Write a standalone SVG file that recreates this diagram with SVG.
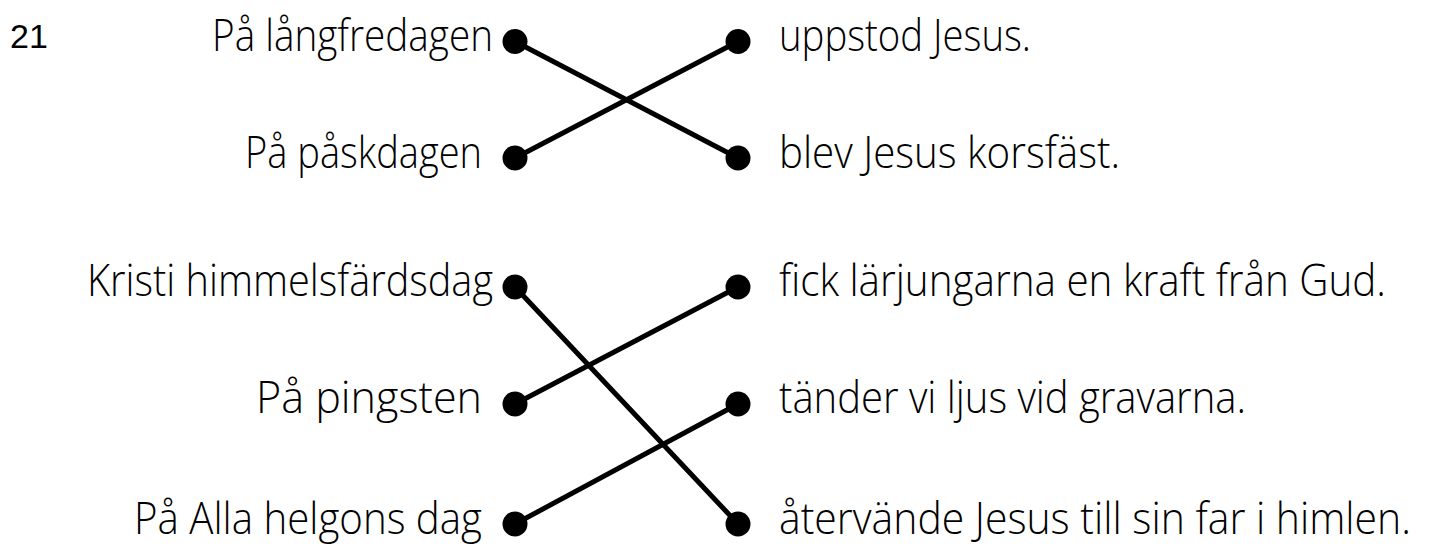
<svg xmlns="http://www.w3.org/2000/svg" width="1429" height="550" viewBox="0 0 1429 550">
<style>
.t{font-family:"Open Sans","DejaVu Sans",sans-serif;font-weight:300;font-size:44px;fill:#000}
.l{text-anchor:start}
.n{font-family:"Liberation Sans",Arial,sans-serif;font-size:34px;fill:#000}
.c{stroke:#000;stroke-width:5;stroke-linecap:round;fill:none}
.d{fill:#000}
</style>
<rect width="1429" height="550" fill="#fff"/>
<text class="n" x="10" y="48">21</text>
<g id="connectors">
<line class="c" x1="515" y1="41.5" x2="738" y2="158"/>
<line class="c" x1="515" y1="158" x2="738" y2="41.5"/>
<line class="c" x1="515" y1="287" x2="738" y2="524"/>
<line class="c" x1="515" y1="404" x2="738" y2="287"/>
<line class="c" x1="515" y1="524" x2="738" y2="404"/>
</g>
<g id="L1"><text class="t" x="212" y="51" textLength="281" lengthAdjust="spacingAndGlyphs">På långfredagen</text><circle class="d" cx="515" cy="41.5" r="12.5"/></g>
<g id="L2"><text class="t" x="245" y="168" textLength="237" lengthAdjust="spacingAndGlyphs">På påskdagen</text><circle class="d" cx="515" cy="158" r="12.5"/></g>
<g id="L3"><text class="t" x="87" y="296" textLength="406" lengthAdjust="spacingAndGlyphs">Kristi himmelsfärdsdag</text><circle class="d" cx="515" cy="287" r="12.5"/></g>
<g id="L4"><text class="t" x="256" y="413" textLength="226" lengthAdjust="spacingAndGlyphs">På pingsten</text><circle class="d" cx="515" cy="404" r="12.5"/></g>
<g id="L5"><text class="t" x="134" y="534" textLength="348" lengthAdjust="spacingAndGlyphs">På Alla helgons dag</text><circle class="d" cx="515" cy="524" r="12.5"/></g>
<g id="R1"><circle class="d" cx="738" cy="41.5" r="12.5"/><text class="t" x="779" y="51" textLength="252" lengthAdjust="spacingAndGlyphs">uppstod Jesus.</text></g>
<g id="R2"><circle class="d" cx="738" cy="158" r="12.5"/><text class="t" x="779" y="168" textLength="341" lengthAdjust="spacingAndGlyphs">blev Jesus korsfäst.</text></g>
<g id="R3"><circle class="d" cx="738" cy="287" r="12.5"/><text class="t" x="779" y="296" textLength="607" lengthAdjust="spacingAndGlyphs">fick lärjungarna en kraft från Gud.</text></g>
<g id="R4"><circle class="d" cx="738" cy="404" r="12.5"/><text class="t" x="779" y="413" textLength="467" lengthAdjust="spacingAndGlyphs">tänder vi ljus vid gravarna.</text></g>
<g id="R5"><circle class="d" cx="738" cy="524" r="12.5"/><text class="t" x="779" y="534" textLength="632" lengthAdjust="spacingAndGlyphs">återvände Jesus till sin far i himlen.</text></g>
</svg>
